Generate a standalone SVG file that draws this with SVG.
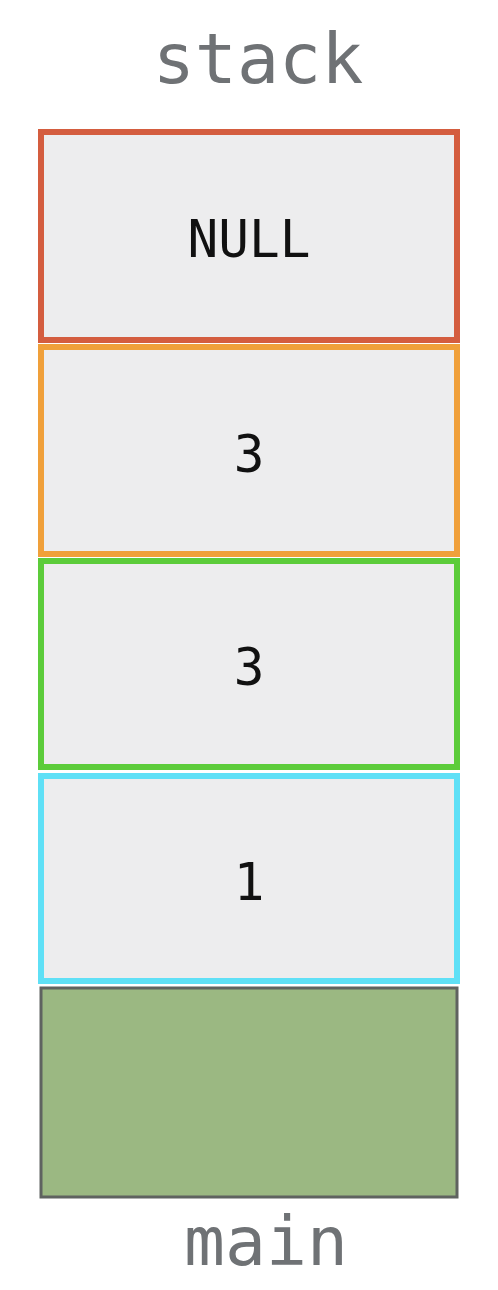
<svg xmlns="http://www.w3.org/2000/svg" width="498" height="1290" viewBox="0 0 498 1290">
<style>
.frame{fill:#ededee;stroke-width:6}
.val{font-family:"DejaVu Sans Mono","Liberation Mono",monospace;font-size:51px;fill:#111;text-anchor:middle}
.lbl{font-family:"DejaVu Sans Mono","Liberation Mono",monospace;fill:#6f7275;text-anchor:middle}
</style>
<rect width="498" height="1290" fill="#fff"/>
<text class="lbl" x="258" y="83" font-size="70">stack</text>
<g id="frame-null">
<rect class="frame" x="41" y="132" width="416" height="208" stroke="#d45d3f"/>
<text class="val" x="249" y="257">NULL</text>
</g>
<g id="frame-3a">
<rect class="frame" x="41" y="347" width="416" height="207" stroke="#f0a03a"/>
<text class="val" x="249" y="472">3</text>
</g>
<g id="frame-3b">
<rect class="frame" x="41" y="561" width="416" height="206" stroke="#5ccc3a"/>
<text class="val" x="249" y="685">3</text>
</g>
<g id="frame-1">
<rect class="frame" x="41" y="776" width="416" height="205" stroke="#5fe0f6"/>
<text class="val" x="249" y="900">1</text>
</g>
<g id="main">
<rect x="41" y="988" width="416" height="209" fill="#9bb882" stroke="#5f6360" stroke-width="3"/>
<text class="lbl" x="266" y="1265" font-size="68">main</text>
</g>
<g id="connectors"></g>
</svg>
